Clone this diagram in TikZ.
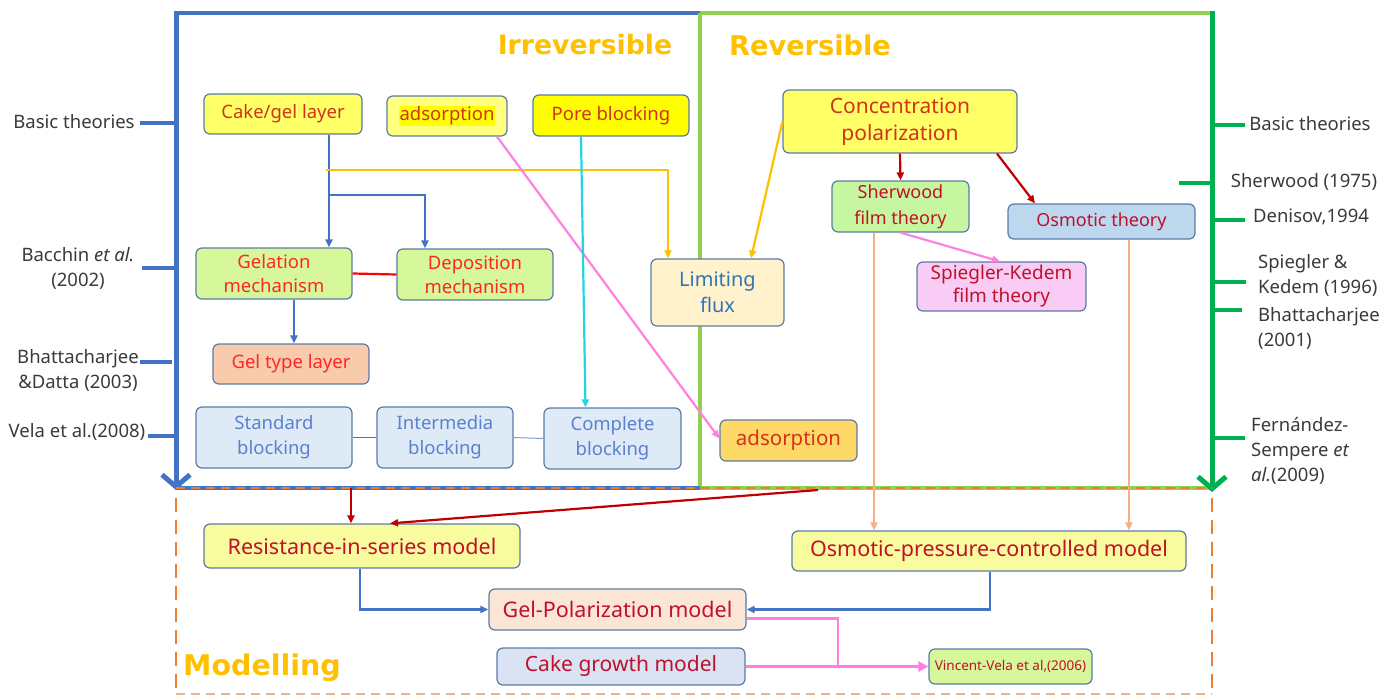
\documentclass[tikz,border=0pt]{standalone}
\usepackage{fontspec}
\setmainfont{Noto Sans}
\newfontfamily\headfont{DejaVu Sans}
\usepackage{xcolor}
\usepackage{tikz}
\usetikzlibrary{
    positioning,
    arrows.meta,
    calc
}
\definecolor{frameblue}{HTML}{4472C4}
\definecolor{framegreen}{HTML}{00B050}
\definecolor{lightgreen}{HTML}{92D050}
\definecolor{dashorange}{HTML}{ED7D31}
\definecolor{titlegold}{HTML}{FFC000}
\definecolor{boxedge}{HTML}{5A7BA6}
\definecolor{labelgray}{HTML}{3A3A3A}
\definecolor{txtred}{HTML}{D2321E}
\definecolor{txtbright}{HTML}{FF2626}
\definecolor{txtcrimson}{HTML}{C0102A}
\definecolor{txtblue}{HTML}{2E75B6}
\definecolor{txtpale}{HTML}{5B80D0}
\definecolor{fillyellow}{HTML}{FFFF66}
\definecolor{fillpale}{HTML}{FFFF80}
\definecolor{fillpure}{HTML}{FFFF00}
\definecolor{fillmodel}{HTML}{F8FC9E}
\definecolor{fillgreen}{HTML}{C6F7A0}
\definecolor{fillmech}{HTML}{D6F79A}
\definecolor{fillsky}{HTML}{BDD7EE}
\definecolor{fillpink}{HTML}{F9CCF5}
\definecolor{fillcream}{HTML}{FFF2CC}
\definecolor{fillsalmon}{HTML}{F8CBAD}
\definecolor{fillice}{HTML}{DEEBF7}
\definecolor{fillgold}{HTML}{FFD966}
\definecolor{fillpeach}{HTML}{FBE5D6}
\definecolor{fillsteel}{HTML}{DAE3F3}
\definecolor{linkpink}{HTML}{FF80E0}
\definecolor{linkcyan}{HTML}{22D4E4}
\definecolor{linkred}{HTML}{FF0000}
\definecolor{linkdark}{HTML}{C00000}
\definecolor{linkpeach}{HTML}{F4B183}
\tikzset{
    box/.style={
        rectangle, rounded corners=6pt,
        draw=boxedge, line width=1.2pt,
        align=center, inner sep=1pt
    },
    fs/.style 2 args={font=\fontsize{#1}{#2}\selectfont},
    sidelabel/.style={
        text=labelgray, align=center, inner sep=0pt,
        font=\fontsize{18.5}{25}\selectfont
    },
    title/.style={
        text=titlegold, font=\headfont\fontsize{#1}{30}\selectfont\bfseries
    },
    tick/.style={line width=4pt},
    link/.style={line width=2.2pt, -{Triangle[length=8pt,width=7pt]}},
    plainlink/.style={line width=2.2pt}
}

\begin{document}
\begin{tikzpicture}[
    x=1pt, y=-1pt,
    bigdown/.style={line width=5pt, -{Straight Barb[length=12pt,width=28pt,line width=5pt]}}
  ]
    \useasboundingbox (0,0) rectangle (1398,696);

    % frame of the two theory panels
    \draw[frameblue, line width=3.5pt] (176,13) -- (700,13);
    \draw[lightgreen, line width=3.5pt] (700,13) -- (1212,13);
    \draw[lightgreen, line width=3.5pt] (700,13) -- (700,488);
    \draw[frameblue, line width=3.5pt] (176,488) -- (700,488);
    \draw[lightgreen, line width=3.5pt] (700,488) -- (1212,488);
    \draw[frameblue, bigdown] (176,11) -- (176,490);
    \draw[framegreen, bigdown] (1212,11) -- (1212,492);

    % modelling panel
    \draw[dashorange, line width=2.5pt, dash pattern=on 9pt off 6pt] (176,488) -- (1212,488);
    \draw[dashorange, line width=2.5pt, dash pattern=on 14pt off 8pt] (176,498) -- (176,696);
    \draw[dashorange, line width=2.5pt, dash pattern=on 14pt off 8pt] (1212,498) -- (1212,696);
    \draw[dashorange!60, line width=2pt, dash pattern=on 9pt off 6pt] (176,694) -- (1212,694);

    \node[title=26.7] (irrev) at (585,45) {Irreversible};
    \node[title=27.2] (rev) at (810,45) {Reversible};
    \node[title=28.5] (model) at (262,668) {Modelling};

    % literature on the left
    \node[sidelabel] (lbasic) at (74,122) {Basic theories};
    \node[sidelabel] (lbacchin) at (78,268) {Bacchin \textit{et al.}\\(2002)};
    \node[sidelabel] (lbhatta) at (78,370) {Bhattacharjee\\\&Datta (2003)};
    \node[sidelabel] (lvela) at (77,432) {Vela et al.(2008)};
    \draw[frameblue, tick] (140,123) -- (176,123);
    \draw[frameblue, tick] (142,268) -- (176,268);
    \draw[frameblue, tick] (140,362) -- (172,362);
    \draw[frameblue, tick] (148,436) -- (176,436);

    % literature on the right
    \node[sidelabel] (rbasic) at (1310,124) {Basic theories};
    \node[sidelabel] (rsher) at (1304,182) {Sherwood (1975)};
    \node[sidelabel] (rdeni) at (1311,217) {Denisov,1994};
    \node[sidelabel, align=left, anchor=west] (rspie) at (1258,275) {Spiegler \&\\Kedem (1996)};
    \node[sidelabel, align=left, anchor=west] (rbhat) at (1258,328) {Bhattacharjee\\(2001)};
    \node[sidelabel, align=left, anchor=west] (rfern) at (1251,451) {Fernández-\\Sempere \textit{et}\\\textit{al.}(2009)};
    \draw[framegreen, tick] (1212,125) -- (1245,125);
    \draw[framegreen, tick] (1179,183) -- (1212,183);
    \draw[framegreen, tick] (1212,220) -- (1245,220);
    \draw[framegreen, tick] (1212,282) -- (1246,282);
    \draw[framegreen, tick] (1212,310) -- (1242,310);
    \draw[framegreen, tick] (1212,438) -- (1245,438);

    % irreversible fouling
    \node[box, fill=fillyellow, text=txtred, fs={18.5}{22}, minimum width=158pt, minimum height=40pt] (cake) at (283,114) {Cake/gel layer};
    \node[box, fill=fillpale, text=txtred, fs={18.5}{22}, minimum width=120pt, minimum height=40pt] (adstop) at (447,116) {\setlength{\fboxsep}{1pt}\colorbox{fillpure}{adsorption}};
    \node[box, fill=fillpure, text=txtred, fs={18.5}{22}, minimum width=156pt, minimum height=41pt] (pore) at (611,115.5) {Pore blocking};
    \node[box, fill=fillmech, text=txtbright, fs={18.5}{24}, minimum width=156pt, minimum height=51pt] (gela) at (274,273.5) {Gelation\\mechanism};
    \node[box, fill=fillmech, text=txtbright, fs={18.5}{24}, minimum width=156pt, minimum height=51pt] (depo) at (475,274.5) {Deposition\\mechanism};
    \node[box, fill=fillsalmon, text=txtbright, fs={18.5}{22}, minimum width=156pt, minimum height=40pt] (geltype) at (291,364) {Gel type layer};
    \node[box, fill=fillice, text=txtpale, fs={18.5}{25}, minimum width=156pt, minimum height=61pt] (stdb) at (274,437.5) {Standard\\blocking};
    \node[box, fill=fillice, text=txtpale, fs={18.5}{25}, minimum width=136pt, minimum height=61pt] (intb) at (445,437.5) {Intermedia\\blocking};
    \node[box, fill=fillice, text=txtpale, fs={18.5}{25}, minimum width=137pt, minimum height=61pt] (cmpb) at (612.5,438.5) {Complete\\blocking};
    \node[box, fill=fillcream, text=txtblue, fs={20}{26}, minimum width=133pt, minimum height=67pt] (limf) at (717.5,292.5) {Limiting\\flux};
    \node[box, fill=fillgold, text=txtred, fs={20.5}{24}, minimum width=137pt, minimum height=41pt] (adsbot) at (788.5,440.5) {adsorption};

    % reversible fouling
    \node[box, fill=fillyellow, text=txtred, fs={21}{27}, minimum width=234pt, minimum height=63pt] (conc) at (900,121.5) {Concentration\\polarization};
    \node[box, fill=fillgreen, text=txtcrimson, fs={18}{26}, minimum width=137pt, minimum height=51pt] (sher) at (900.5,206.5) {Sherwood\\film theory};
    \node[box, fill=fillsky, text=txtcrimson, fs={18}{22}, minimum width=187pt, minimum height=35pt] (osmt) at (1101.5,221.5) {Osmotic theory};
    \node[box, fill=fillpink, text=txtcrimson, fs={19}{23}, minimum width=169pt, minimum height=49pt] (spk) at (1001.5,286.5) {Spiegler-Kedem\\film theory};

    % models
    \node[box, fill=fillmodel, text=txtcrimson, fs={21.5}{25}, minimum width=316pt, minimum height=44pt] (ris) at (362,546) {Resistance-in-series model};
    \node[box, fill=fillmodel, text=txtcrimson, fs={21.5}{25}, minimum width=394pt, minimum height=40pt] (opc) at (989,551) {Osmotic-pressure-controlled model};
    \node[box, fill=fillpeach, text=txtcrimson, fs={21.5}{25}, minimum width=257pt, minimum height=41pt] (gpm) at (617.5,609.5) {Gel-Polarization model};
    \node[box, fill=fillsteel, text=txtcrimson, fs={21}{25}, minimum width=248pt, minimum height=37pt] (cgm) at (621,666.5) {Cake growth model};
    \node[box, fill=fillmech, text=txtcrimson, fs={13.5}{16}, minimum width=163pt, minimum height=35pt] (vvela) at (1010.5,666.5) {Vincent-Vela et al,(2006)};

    % connectors, upper panels
    \coordinate (cakesplit) at (329,195);
    \coordinate (fluxsplit) at (326,170);
    \draw[frameblue, link] (cake.south -| cakesplit) -- (gela.north -| cakesplit);
    \draw[frameblue, link] (cakesplit) -| ([xshift=-50pt]depo.north);
    \draw[titlegold, link] (fluxsplit) -| ([xshift=-49.5pt]limf.north);
    \draw[titlegold, link] (conc.west) -- ([xshift=33.5pt]limf.north);
    \draw[linkpink, link] ([xshift=50pt]adstop.south) -- ([yshift=2pt]adsbot.west);
    \draw[linkcyan, link] ([xshift=-30pt]pore.south) -- ([xshift=-27pt]cmpb.north);
    \draw[linkred, plainlink] (gela.east) -- (depo.west);
    \draw[frameblue, link] ([xshift=20pt]gela.south) -- ([xshift=3pt]geltype.north);
    \draw[frameblue, line width=1.6pt] (stdb.east) -- (intb.west);
    \draw[frameblue!70, line width=1pt] (intb.east) -- (cmpb.west);
    \draw[linkdark, link] (conc.south) -- (sher.north);
    \draw[linkdark, link] ([xshift=97pt]conc.south) -- ([xshift=-66.5pt]osmt.north);
    \draw[linkpink, link] (sher.south) -- ([xshift=-1.5pt]spk.north);
    \draw[linkpeach, link] ([xshift=-26.5pt]sher.south) -- ([xshift=-115pt]opc.north);
    \draw[linkpeach, link] ([xshift=27.5pt]osmt.south) -- ([xshift=140pt]opc.north);

    % connectors, modelling panel
    \coordinate (irrevout) at (351,488);
    \coordinate (revout) at (818,490);
    \coordinate (vvjoin) at (838,668);
    \draw[linkdark, link] (irrevout) -- ([xshift=-11pt]ris.north);
    \draw[linkdark, link] (revout) -- ([xshift=28pt]ris.north);
    \draw[frameblue, link] ([xshift=-2pt]ris.south) |- (gpm.west);
    \draw[frameblue, link] ([xshift=1pt]opc.south) |- (gpm.east);
    \draw[linkpink, plainlink] ([yshift=-9pt]gpm.east) -| (vvjoin);
    \draw[linkpink, line width=3pt, -{Triangle[length=10pt,width=10pt]}] (cgm.east) -- (vvela.west);

\end{tikzpicture}
\end{document}
